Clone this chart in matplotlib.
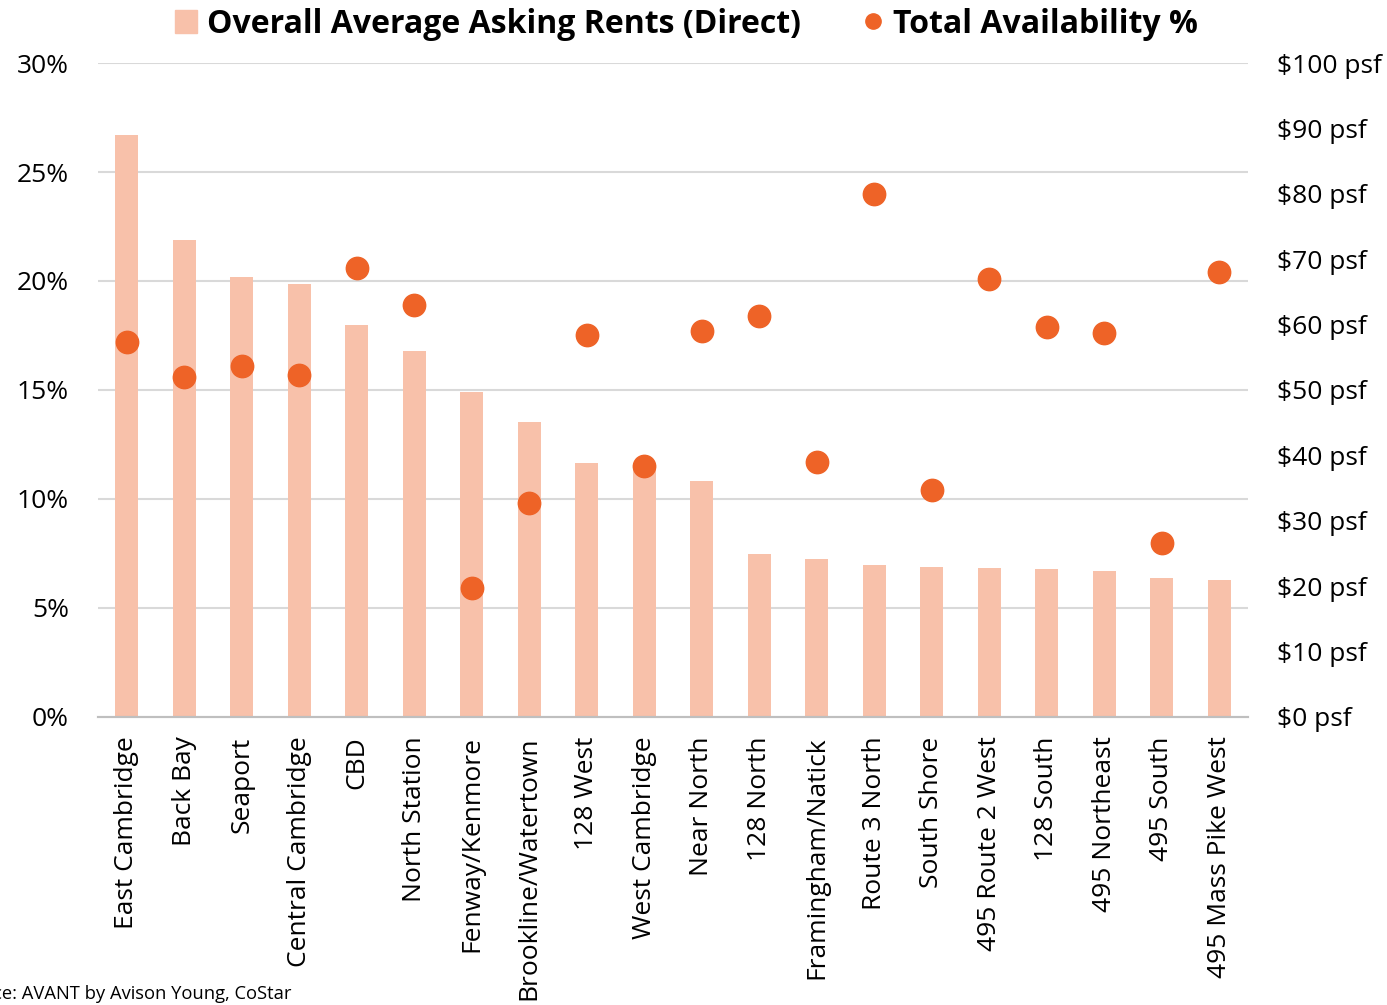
import matplotlib.pyplot as plt
from matplotlib.lines import Line2D
from matplotlib.patches import Patch
import numpy as np

plt.rcParams['font.family'] = ['Open Sans', 'DejaVu Sans']

submarkets = ['East Cambridge', 'Back Bay', 'Seaport', 'Central Cambridge', 'CBD',
              'North Station', 'Fenway/Kenmore', 'Brookline/Watertown', '128 West',
              'West Cambridge', 'Near North', '128 North', 'Framingham/Natick',
              'Route 3 North', 'South Shore', '495 Route 2 West', '128 South',
              '495 Northeast', '495 South', '495 Mass Pike West']
# 賃料 ($ psf)
rents = [89.0, 72.9, 67.3, 66.2, 59.9, 56.0, 49.7, 45.1, 38.8, 38.7,
         36.1, 24.9, 24.2, 23.2, 22.9, 22.8, 22.6, 22.3, 21.3, 20.9]
# 空室率 (%)
availability = [17.2, 15.6, 16.1, 15.7, 20.6, 18.9, 5.9, 9.8, 17.5, 11.5,
                17.7, 18.4, 11.7, 24.0, 10.4, 20.1, 17.9, 17.6, 8.0, 20.4]

bar_color = '#F8C1AA'
dot_color = '#EE6327'

fig = plt.figure(figsize=(13.87, 10.05), dpi=100)
ax = fig.add_axes([0.0707, 0.2866, 0.829, 0.6507])
ax2 = ax.twinx()

x = np.arange(len(submarkets))
ax2.bar(x, rents, width=0.4, color=bar_color, zorder=2)
ax.scatter(x, availability, s=260, color=dot_color, zorder=5)

# 点を棒の上に描く
ax.set_zorder(ax2.get_zorder() + 1)
ax.patch.set_visible(False)

ax.set_ylim(0, 30)
ax2.set_ylim(0, 100)
ax.set_xlim(-0.5, len(submarkets) - 0.5)
ax.set_yticks(np.arange(0, 31, 5))
ax.set_yticklabels([f'{v}%' for v in range(0, 31, 5)])
ax2.set_yticks(np.arange(0, 101, 10))
ax2.set_yticklabels([f'${v} psf' for v in range(0, 101, 10)])

for yv in np.arange(5, 31, 5):
    ax2.axhline(yv / 30 * 100, color='#D9D9D9', lw=1.5, zorder=0)

ax.set_xticks(x)
ax.set_xticklabels(submarkets, rotation=90, fontsize=19)
ax.tick_params(axis='y', labelsize=19, length=0, pad=21)
ax2.tick_params(axis='y', labelsize=19, length=0, pad=21)
ax.tick_params(axis='x', length=0, pad=14)

for a in (ax, ax2):
    for s in ['top', 'left', 'right']:
        a.spines[s].set_visible(False)
    a.spines['bottom'].set_color('#BFBFBF')
    a.spines['bottom'].set_linewidth(1.5)

handles = [Patch(color=bar_color, label='Overall Average Asking Rents (Direct)'),
           Line2D([], [], marker='o', ls='', color=dot_color, markersize=11,
                  label='Total Availability %')]
fig.legend(handles=handles, loc='upper center', bbox_to_anchor=(0.495, 1.021), ncol=2,
           frameon=False, prop={'size': 23, 'weight': 'bold'},
           handlelength=0.7, handletextpad=0.3, columnspacing=1.9)

fig.text(0.21, 0.006, 'Source: AVANT by Avison Young, CoStar', fontsize=13.2, ha='right')

fig.savefig('out.png', dpi=100)
